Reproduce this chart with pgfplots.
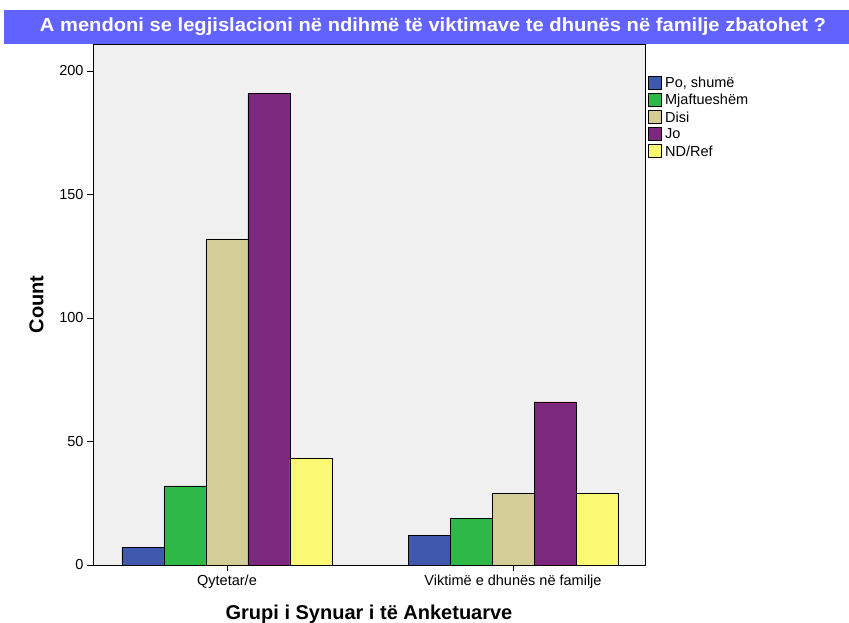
\documentclass[border=0pt]{standalone}
\usepackage{pgfplots}
\pgfplotsset{compat=1.18}
\usepackage{fontspec}
\setmainfont{Liberation Sans}

\definecolor{cPo}{HTML}{3E58AC}
\definecolor{cMj}{HTML}{2EB848}
\definecolor{cDi}{HTML}{D3CE97}
\definecolor{cJo}{HTML}{7B287D}
\definecolor{cNd}{HTML}{FBF873}
\definecolor{bgplot}{HTML}{F0F0F0}
\definecolor{banner}{HTML}{6262FF}

\begin{document}
\begin{tikzpicture}[x=1pt,y=1pt]
\useasboundingbox (0,0) rectangle (849,623);
\begin{axis}[
    at={(93pt,58pt)}, anchor=south west,
    scale only axis,
    width=552pt, height=521pt,
    axis background/.style={fill=bgplot},
    ybar=0pt, bar width=42pt,
    xmin=-0.4685, xmax=1.4615,
    ymin=0, ymax=210.9,
    xtick={0,1},
    xticklabels={Qytetar/e, Viktimë e dhunës në familje},
    ytick={0,50,100,150,200},
    tick align=outside,
    major tick length=6pt,
    tick style={black, line width=0.8pt},
    xtick pos=bottom, ytick pos=left,
    axis line style={line width=0.8pt},
    tick label style={font=\fontsize{14.5}{16}\selectfont},
    /pgf/number format/assume math mode=true,
    xlabel={\fontsize{20}{22}\selectfont\bfseries Grupi i Synuar i të Anketuarve},
    ylabel={\fontsize{20}{22}\selectfont\bfseries Count},
    xlabel style={at={(0.5,0)}, anchor=base, yshift=-55pt},
    ylabel style={at={(0,0.5)}, anchor=south, yshift=46pt},
    legend style={at={(1.003,0.942)}, anchor=north west, draw=none, fill=none,
        font=\fontsize{14.5}{16}\selectfont, row sep=2.3pt,
        inner sep=1pt, nodes={inner xsep=3.5pt, inner ysep=1.5pt}},
    legend cell align=left,
    legend image code/.code={\draw[#1,draw=black,line width=0.8pt] (0pt,-6pt) rectangle (13pt,7pt);},
    every axis plot/.append style={draw=black, line width=0.8pt},
]
\addplot[fill=cPo] coordinates {(0,7) (1,12)};
\addplot[fill=cMj] coordinates {(0,32) (1,19)};
\addplot[fill=cDi] coordinates {(0,132) (1,29)};
\addplot[fill=cJo] coordinates {(0,191) (1,66)};
\addplot[fill=cNd] coordinates {(0,43) (1,29)};
\legend{{Po, shumë}, Mjaftueshëm, Disi, Jo, ND/Ref}
\end{axis}
\fill[banner] (4,579) rectangle (849,613);
\node[text=white, font=\fontsize{19}{22}\selectfont\bfseries] at (433,596)
    {\resizebox{786pt}{\height}{A mendoni se legjislacioni në ndihmë të viktimave te dhunës në familje zbatohet ?}};
\end{tikzpicture}
\end{document}
